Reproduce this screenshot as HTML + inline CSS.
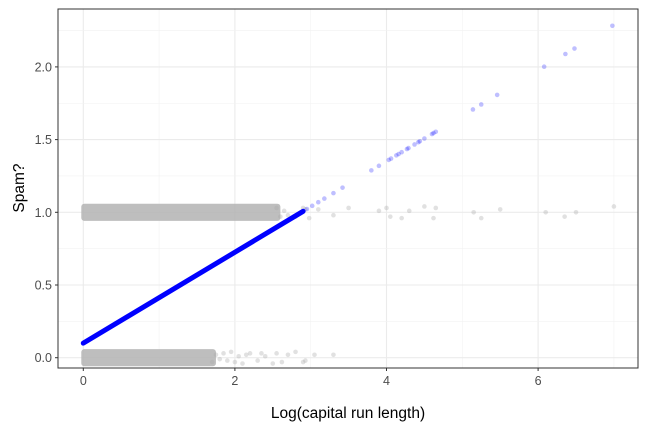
<!DOCTYPE html>
<html><head><meta charset="utf-8"><style>
body{margin:0;background:#fff;}
svg{display:block;font-family:"Liberation Sans",sans-serif;}
</style></head><body>
<svg id="chart" width="648" height="432"></svg>
<script>
const xTicks=[0,2,4,6];
const yTicks=[0,0.5,1,1.5,2];
const fitIntercept=0.1, fitSlope=0.3127;
const blueDenseRange=[0,2.9];
const blueSparseX=[2.95,3.02,3.1,3.18,3.3,3.42,3.8,3.9,4.03,4.06,4.13,4.16,4.2,4.27,4.29,4.37,4.42,4.44,4.5,4.6,4.62,4.65,5.14,5.25,5.46,6.08,6.36,6.48,6.98];
const grayDense0=[0,1.75];
const grayDense1=[0,2.6];
const spam0X=[1.7,1.75,1.8,1.85,1.9,1.95,2.0,2.05,2.1,2.15,2.2,2.3,2.35,2.4,2.5,2.55,2.62,2.7,2.8,2.9,2.93,3.05,3.3];
const spam0J=[-0.03,0.02,-0.01,0.03,-0.02,0.04,-0.03,0.01,-0.04,0.02,0.03,-0.02,0.03,0.01,-0.04,0.03,-0.03,0.02,0.04,-0.03,-0.02,0.02,0.02];
const spam1X=[2.55,2.6,2.65,2.7,2.8,2.9,2.93,2.98,3.1,3.3,3.5,3.9,4.0,4.05,4.2,4.3,4.5,4.62,4.65,5.15,5.25,5.5,6.1,6.35,6.5,7.0];
const spam1J=[0.03,-0.03,0.01,-0.02,-0.03,0.03,0.02,-0.04,0.02,-0.02,0.03,0.01,0.03,-0.03,-0.04,0.01,0.04,-0.04,0.03,0.0,-0.04,0.02,0.0,-0.03,0.0,0.04];

const svg=document.getElementById('chart');
const NS='http://www.w3.org/2000/svg';
const L=58,R=638,T=9,B=368;
const X=v=>83.3+v*75.8;
const Y=v=>357.7-v*145.4;
function mk(tag,at,parent){const e=document.createElementNS(NS,tag);for(const k in at)e.setAttribute(k,at[k]);(parent||svg).appendChild(e);return e;}
const grid=mk('g',{});


for(let v=-1;v<=8;v+=1){const x=X(v);if(x>L&&x<R)mk('line',{x1:x,x2:x,y1:T,y2:B,stroke:v%2?'#f2f2f2':'#ebebeb','stroke-width':v%2?0.6:1.1},grid);}
for(let v=0;v<=2.25;v+=0.25){const y=Y(v);mk('line',{x1:L,x2:R,y1:y,y2:y,stroke:(v*4)%2?'#f2f2f2':'#ebebeb','stroke-width':(v*4)%2?0.6:1.1},grid);}
const pts=mk('g',{});


[[grayDense0,0],[grayDense1,1]].forEach(([r,c])=>{
 const b=mk('rect',{x:X(r[0])-2,y:Y(c+0.045)-2,width:X(r[1])-X(r[0])+2,height:Y(c-0.045)-Y(c+0.045)+4,fill:'#b3b3b3','fill-opacity':0.85,rx:3},pts);
 
 
});
spam0X.forEach((x,i)=>{const c=mk('circle',{cx:X(x),cy:Y(spam0J[i]),r:2.3,fill:'#aaa','fill-opacity':0.35},pts);
 
 });
spam1X.forEach((x,i)=>{const c=mk('circle',{cx:X(x),cy:Y(1+spam1J[i]),r:2.3,fill:'#aaa','fill-opacity':0.35},pts);
 
 });
const fl=mk('line',{x1:X(blueDenseRange[0]),y1:Y(fitIntercept+fitSlope*blueDenseRange[0]),x2:X(blueDenseRange[1]),y2:Y(fitIntercept+fitSlope*blueDenseRange[1]),stroke:'#0000ff','stroke-width':5,'stroke-linecap':'round'},pts);


blueSparseX.forEach(x=>{const c=mk('circle',{cx:X(x),cy:Y(fitIntercept+fitSlope*x),r:2.3,fill:'#0000ff','fill-opacity':0.25},pts);
 
 });
const fr=mk('rect',{x:L,y:T,width:R-L,height:B-T,fill:'none',stroke:'#333','stroke-width':1});


xTicks.forEach(v=>{mk('line',{x1:X(v),x2:X(v),y1:B,y2:B+3,stroke:'#333'});
 const t=mk('text',{x:X(v),y:B+17,'text-anchor':'middle','font-size':12.5,fill:'#4d4d4d'});t.textContent=v;
 
 });
yTicks.forEach(v=>{mk('line',{x1:L-3,x2:L,y1:Y(v),y2:Y(v),stroke:'#333'});
 const t=mk('text',{x:L-6,y:Y(v)+4.5,'text-anchor':'end','font-size':12.5,fill:'#4d4d4d'});t.textContent=v.toFixed(1);
 
 });
const xt=mk('text',{x:348,y:418,'text-anchor':'middle','font-size':15.5,fill:'#000'});xt.textContent='Log(capital run length)';


const yt=mk('text',{x:0,y:0,transform:'translate(24,188) rotate(-90)','text-anchor':'middle','font-size':15.5,fill:'#000'});yt.textContent='Spam?';


</script>
</body></html>
